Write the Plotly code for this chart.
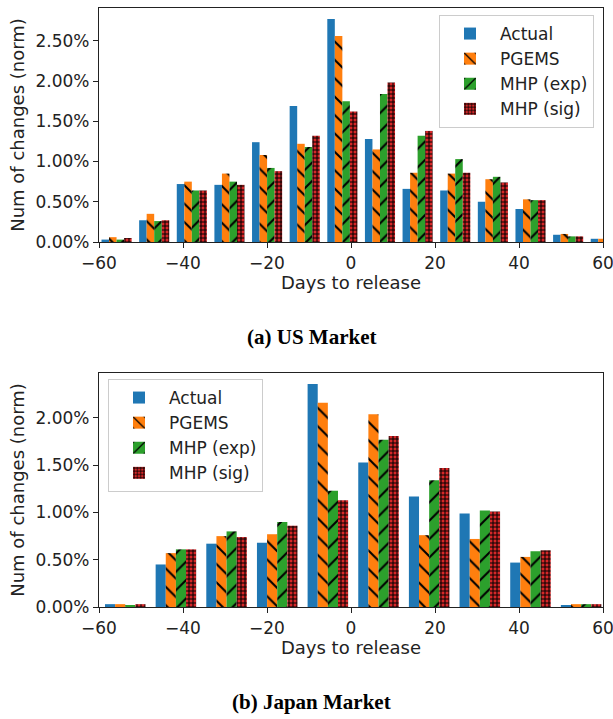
import plotly.graph_objects as go

# ---- data (percent of changes per bin) ----
series_names = ["Actual", "PGEMS", "MHP (exp)", "MHP (sig)"]

us_bins = [-55.82, -46.86, -37.90, -28.94, -19.98, -11.02, -2.06, 6.90,
           15.86, 24.82, 33.78, 42.74, 51.70, 60.66]
us_actual = [0.03, 0.27, 0.72, 0.71, 1.24, 1.69, 2.77, 1.28, 0.66, 0.64, 0.50, 0.41, 0.09, 0.04]
us_pgems = [0.06, 0.35, 0.75, 0.85, 1.08, 1.22, 2.56, 1.15, 0.86, 0.85, 0.78, 0.53, 0.10, 0.04]
us_mhp_exp = [0.03, 0.26, 0.64, 0.75, 0.92, 1.18, 1.75, 1.84, 1.32, 1.03, 0.81, 0.52, 0.07, 0.03]
us_mhp_sig = [0.05, 0.27, 0.64, 0.71, 0.88, 1.32, 1.62, 1.98, 1.38, 0.86, 0.74, 0.52, 0.07, 0.03]

jp_bins = [-53.75, -41.69, -29.63, -17.57, -5.51, 6.55, 18.61, 30.67, 42.73, 54.79]
jp_actual = [0.03, 0.45, 0.67, 0.68, 2.36, 1.53, 1.17, 0.99, 0.47, 0.02]
jp_pgems = [0.03, 0.57, 0.75, 0.77, 2.16, 2.04, 0.76, 0.72, 0.53, 0.03]
jp_mhp_exp = [0.02, 0.61, 0.80, 0.90, 1.23, 1.77, 1.34, 1.02, 0.59, 0.03]
jp_mhp_sig = [0.03, 0.61, 0.74, 0.86, 1.13, 1.81, 1.47, 1.01, 0.60, 0.03]

x_ticks = [-60, -40, -20, 0, 20, 40, 60]
x_tick_text = ["\u221260", "\u221240", "\u221220", "0", "20", "40", "60"]
us_y_ticks = [0, 0.5, 1.0, 1.5, 2.0, 2.5]
us_y_tick_text = ["0.00%", "0.50%", "1.00%", "1.50%", "2.00%", "2.50%"]
jp_y_ticks = [0, 0.5, 1.0, 1.5, 2.0]
jp_y_tick_text = ["0.00%", "0.50%", "1.00%", "1.50%", "2.00%"]

# ---- styles ----
colors = ["#1f77b4", "#ff7f0e", "#2ca02c", "#d62728"]
patterns = [
    dict(shape=""),
    dict(shape="\\", fgcolor="black", fgopacity=1, size=13, solidity=0.16),
    dict(shape="/", fgcolor="black", fgopacity=1, size=13, solidity=0.16),
    dict(shape="+", fgcolor="black", fgopacity=1, size=4, solidity=0.45),
]

W, H = 613, 719
def px_x(p):
    return p / W
def px_y(p):
    return 1 - p / H

fig = go.Figure()
us_data = [us_actual, us_pgems, us_mhp_exp, us_mhp_sig]
jp_data = [jp_actual, jp_pgems, jp_mhp_exp, jp_mhp_sig]
for i, name in enumerate(series_names):
    fig.add_trace(go.Bar(
        x=us_bins, y=us_data[i], name=name, xaxis="x", yaxis="y",
        marker=dict(color=colors[i], pattern=patterns[i], line=dict(width=0)),
        legend="legend",
    ))
for i, name in enumerate(series_names):
    fig.add_trace(go.Bar(
        x=jp_bins, y=jp_data[i], name=name, xaxis="x2", yaxis="y2",
        marker=dict(color=colors[i], pattern=patterns[i], line=dict(width=0)),
        legend="legend2",
    ))

font_family = "DejaVu Sans"
tick_font = dict(family=font_family, size=17, color="#222")
title_font = dict(family=font_family, size=18, color="#222")

axis_common = dict(
    showline=True, mirror=True, linecolor="#222", linewidth=1.2,
    ticks="outside", ticklen=5, tickcolor="#222", tickwidth=1.2,
    showgrid=False, zeroline=False, tickfont=tick_font,
    automargin=False, ticklabeloverflow="allow",
)

xdom = [px_x(99), px_x(603)]
fig.update_layout(
    width=W, height=H,
    margin=dict(l=0, r=0, t=0, b=0, autoexpand=False),
    paper_bgcolor="white", plot_bgcolor="white",
    barmode="group", bargap=0.2, bargroupgap=0,
    xaxis=dict(domain=xdom, anchor="y", range=[-60, 60], tickvals=x_ticks, ticktext=x_tick_text,
               title=dict(text="Days to release", font=title_font, standoff=1), **axis_common),
    yaxis=dict(domain=[px_y(242), px_y(8)], anchor="x", range=[0, 2.907], tickvals=us_y_ticks,
               ticktext=us_y_tick_text,
               title=dict(text="Num of changes (norm)", font=title_font, standoff=6), **axis_common),
    xaxis2=dict(domain=xdom, anchor="y2", range=[-60, 60], tickvals=x_ticks, ticktext=x_tick_text,
                title=dict(text="Days to release", font=title_font, standoff=1), **axis_common),
    yaxis2=dict(domain=[px_y(607), px_y(373)], anchor="x2", range=[0, 2.476], tickvals=jp_y_ticks,
                ticktext=jp_y_tick_text,
                title=dict(text="Num of changes (norm)", font=title_font, standoff=6), **axis_common),
    legend=dict(x=px_x(594), y=px_y(15), xanchor="right", yanchor="top",
                bgcolor="rgba(255,255,255,0.8)", bordercolor="#cccccc", borderwidth=1,
                font=dict(family=font_family, size=17, color="#222"), itemwidth=50,
                tracegroupgap=0),
    legend2=dict(x=px_x(108), y=px_y(379), xanchor="left", yanchor="top",
                 bgcolor="rgba(255,255,255,0.8)", bordercolor="#cccccc", borderwidth=1,
                 font=dict(family=font_family, size=17, color="#222"), itemwidth=50,
                 tracegroupgap=0),
    showlegend=True,
    annotations=[
        dict(text="<b>(a) US Market</b>", x=px_x(311), y=px_y(337), xref="paper", yref="paper",
             showarrow=False, xanchor="center", yanchor="middle",
             font=dict(family="Liberation Serif", size=21, color="black")),
        dict(text="<b>(b) Japan Market</b>", x=px_x(311), y=px_y(702), xref="paper", yref="paper",
             showarrow=False, xanchor="center", yanchor="middle",
             font=dict(family="Liberation Serif", size=21, color="black")),
    ],
)

fig.write_html("out.html", config={"displayModeBar": False},
               post_script="document.body.style.margin='0';document.body.style.overflow='hidden';")
